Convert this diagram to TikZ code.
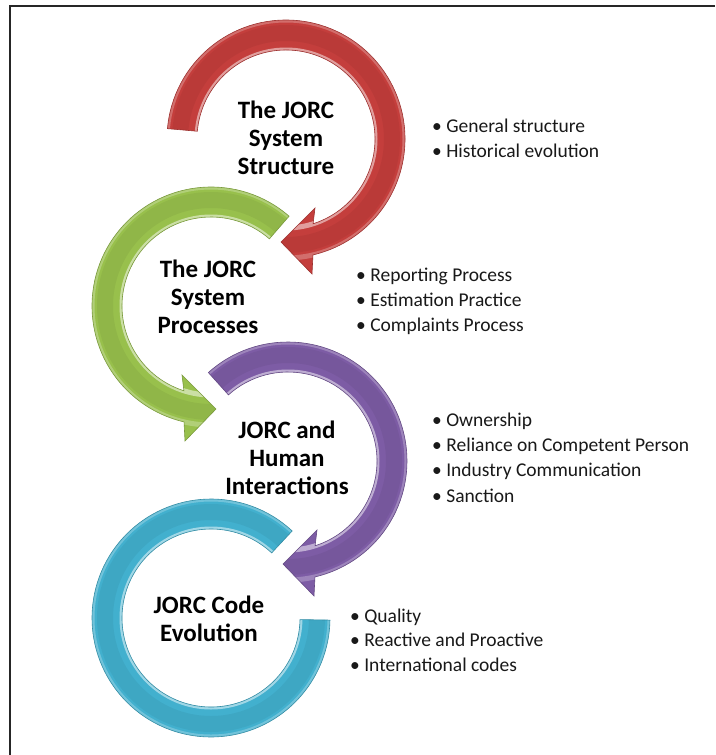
\documentclass[tikz,border=0pt]{standalone}
\usepackage{fontspec}
\setmainfont{Carlito}
\definecolor{cRed}{RGB}{196,62,60}
\definecolor{cGreen}{RGB}{152,192,76}
\definecolor{cPurple}{RGB}{125,92,165}
\definecolor{cTeal}{RGB}{66,176,206}
\definecolor{cText}{RGB}{25,25,25}
\newcommand{\rapath}[1]{(#1:119) arc[start angle=#1, end angle=-76.9, radius=119] -- (26,-135) -- (-5,-103) -- (29,-69) -- (-72.3:89) arc[start angle=-72.3, end angle=#1, radius=89] -- cycle}
\newcommand{\ringarrow}[4]{%
  \begin{scope}[shift={#2}, xscale=#4]
    \fill[#1] \rapath{#3};
    \begin{scope}
      \clip \rapath{#3};
      \draw[white, opacity=.5, line width=5] (0,0) circle[radius=89];
      \draw[white, opacity=.25, line width=5] (0,0) circle[radius=119];
      \draw[black, opacity=.05, line width=16] (0,0) circle[radius=106];
    \end{scope}
    \draw[#1!80!black, line width=.6] \rapath{#3};
  \end{scope}}
\tikzset{
  title/.style={font=\fontsize{25}{28}\selectfont\bfseries, text=black, align=center, inner sep=0pt},
  item/.style={font=\fontsize{19.5}{25}\selectfont, text=cText, anchor=base west, inner sep=0pt},
}
\begin{document}
\begin{tikzpicture}[x=1pt,y=1pt]
\useasboundingbox (0,0) rectangle (715,-755);
\fill[white] (0,0) rectangle (715,-755);
% frame
\draw[line width=2.2, black!85] (10,-755) -- (10,-6) -- (715,-6);

% teal ring (no head)
\begin{scope}[shift={(211,-618)}]
  \def\tpath{(47:119) arc[start angle=47, end angle=359, radius=119] -- (359:89) arc[start angle=359, end angle=47, radius=89] -- cycle}
  \fill[cTeal] \tpath;
  \begin{scope}
    \clip \tpath;
    \draw[white, opacity=.5, line width=5] (0,0) circle[radius=89];
    \draw[white, opacity=.25, line width=5] (0,0) circle[radius=119];
    \draw[black, opacity=.05, line width=16] (0,0) circle[radius=106];
  \end{scope}
  \draw[cTeal!80!black, line width=.6] \tpath;
\end{scope}

% purple
\ringarrow{cPurple}{(288,-461)}{132}{1}
% green (mirrored)
\ringarrow{cGreen}{(211,-306)}{131}{-1}
% red
\ringarrow{cRed}{(286,-139)}{175}{1}

% titles
\node[title, anchor=base] (t1a) at (286,-118) {The JORC};
\node[title, anchor=base] (t1b) at (286,-146) {System};
\node[title, anchor=base] (t1c) at (286,-174) {Structure};

\node[title, anchor=base] (t2a) at (208,-277) {The JORC};
\node[title, anchor=base] (t2b) at (208,-305) {System};
\node[title, anchor=base] (t2c) at (208,-333) {Processes};

\node[title, anchor=base] (t3a) at (287,-438) {JORC and};
\node[title, anchor=base] (t3b) at (287,-466) {Human};
\node[title, anchor=base] (t3c) at (287,-494) {Interactions};

\node[title, anchor=base] (t4a) at (209,-613) {JORC Code};
\node[title, anchor=base] (t4b) at (209,-641) {Evolution};

% bullet lists
\node[item] (b11) at (432,-132) {• General structure};
\node[item] (b12) at (432,-157) {• Historical evolution};

\node[item] (b21) at (356,-281) {• Reporting Process};
\node[item] (b22) at (356,-306) {• Estimation Practice};
\node[item] (b23) at (356,-331) {• Complaints Process};

\node[item] (b31) at (432,-426) {• Ownership};
\node[item] (b32) at (432,-451) {• Reliance on Competent Person};
\node[item] (b33) at (432,-476) {• Industry Communication};
\node[item] (b34) at (432,-502) {• Sanction};

\node[item] (b41) at (350,-622) {• Quality};
\node[item] (b42) at (350,-646) {• Reactive and Proactive};
\node[item] (b43) at (350,-671) {• International codes};
\end{tikzpicture}
\end{document}
